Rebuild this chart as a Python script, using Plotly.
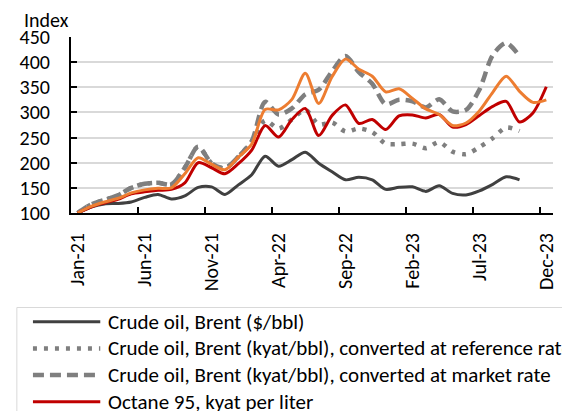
import plotly.graph_objects as go

# ---------------- data ----------------
months = ["Jan-21", "Feb-21", "Mar-21", "Apr-21", "May-21", "Jun-21", "Jul-21", "Aug-21",
          "Sep-21", "Oct-21", "Nov-21", "Dec-21", "Jan-22", "Feb-22", "Mar-22", "Apr-22",
          "May-22", "Jun-22", "Jul-22", "Aug-22", "Sep-22", "Oct-22", "Nov-22", "Dec-22",
          "Jan-23", "Feb-23", "Mar-23", "Apr-23", "May-23", "Jun-23", "Jul-23", "Aug-23",
          "Sep-23", "Oct-23", "Nov-23", "Dec-23"]

brent_usd = [100, 112, 118, 119, 122, 131, 137, 128, 134, 151, 152, 137,
             156, 176, 213, 193, 206, 221, 199, 182, 166, 171, 166, 147,
             151, 152, 143, 154, 139, 136, 144, 157, 172, 166, None, None]

brent_ref = [100, 117, 126, 135, 150, 158, 160, 157, 190, 232, 199, 189,
             212, 242, 284, 268, 286, 305, 276, 280, 262, 268, 261, 238,
             237, 238, 229, 241, 222, 217, 231, 249, 270, 263, None, None]

brent_mkt = [100, 117, 126, 135, 150, 158, 160, 157, 190, 232, 199, 189,
             212, 243, 321, 296, 308, 336, 345, 382, 412, 380, 357, 316,
             325, 322, 310, 326, 302, 305, 345, 414, 438, 412, None, None]

octane95 = [100, 112, 120, 127, 138, 142, 145, 147, 160, 200, 190, 178,
            198, 225, 274, 251, 286, 308, 254, 294, 315, 278, 286, 266,
            293, 295, 289, 296, 271, 276, 294, 312, 322, 281, 299, 351]

diesel = [100, 113, 122, 129, 140, 146, 149, 150, 178, 210, 197, 186,
          211, 237, 306, 305, 326, 378, 318, 371, 406, 386, 372, 341,
          347, 328, 307, 296, 274, 279, 303, 340, 372, 342, 320, 325]

series_names = ["Crude oil, Brent ($/bbl)",
                "Crude oil, Brent (kyat/bbl), converted at reference rate",
                "Crude oil, Brent (kyat/bbl), converted at market rate",
                "Octane 95, kyat per liter",
                "Diesel, kyat per liter"]
series_values = [brent_usd, brent_ref, brent_mkt, octane95, diesel]

y_axis_title = "Index"

# ---------------- styles ----------------
colors = ["#404040", "#7f7f7f", "#7f7f7f", "#c00000", "#ed7d31"]
widths = [3, 4.5, 4.5, 3, 3]
dashes = ["solid", "4px,7px", "11px,6px", "solid", "solid"]

FONT = "Calibri, Carlito, Lato, sans-serif"
OFF = 8                      # page margin around the figure
W, H = 570 - OFF, 411 - OFF  # figure size
# plot area in window pixels
L, R, T, B = 63, 557, 37, 213
Lf, Rf, Tf, Bf = L - OFF, R - OFF, T - OFF, B - OFF


def px(xp):
    return (xp - OFF - Lf) / (Rf - Lf)


def py(yp):
    return (Bf - (yp - OFF)) / (Bf - Tf)


fig = go.Figure()
for name, vals, c, w, d in zip(series_names, series_values, colors, widths, dashes):
    fig.add_trace(go.Scatter(
        x=months, y=vals, name=name, mode="lines",
        line=dict(color=c, width=w, dash=d, shape="spline", smoothing=0.8),
        connectgaps=False, showlegend=False, hoverinfo="skip"))

# ---------------- manual legend (box runs past the page edge) ----------------
shapes = [dict(type="rect", xref="paper", yref="paper",
               x0=px(7.5), x1=px(700), y0=py(307.5), y1=py(560),
               line=dict(color="#d9d9d9", width=1), fillcolor="rgba(0,0,0,0)", layer="below")]
annotations = [dict(text=y_axis_title, xref="paper", yref="paper", x=px(13), y=py(19.5),
                    xanchor="left", yanchor="middle", showarrow=False,
                    font=dict(family=FONT, size=20, color="#000000"))]
row0, row_step = 321.7, 26.7
for k, name in enumerate(series_names):
    yy = row0 + k * row_step
    shapes.append(dict(type="line", xref="paper", yref="paper",
                       x0=px(24), x1=px(93), y0=py(yy), y1=py(yy),
                       line=dict(color=colors[k], width=widths[k], dash=dashes[k])))
    annotations.append(dict(text=name, xref="paper", yref="paper", x=px(99), y=py(yy),
                            xanchor="left", yanchor="middle", showarrow=False,
                            font=dict(family=FONT, size=21, color="#000000")))

fig.update_layout(
    width=W, height=H,
    margin=dict(l=Lf, r=W - Rf, t=Tf, b=H - Bf, pad=0),
    paper_bgcolor="white", plot_bgcolor="white",
    font=dict(family=FONT, size=20, color="#000000"),
    shapes=shapes, annotations=annotations,
    showlegend=False,
)
fig.update_xaxes(
    type="category", range=[-0.5, len(months) - 0.5],
    dtick=5, tickson="boundaries", tickangle=-90,
    ticks="inside", ticklen=6, tickwidth=2, tickcolor="#000000",
    showline=True, linecolor="#000000", linewidth=2,
    showgrid=False, zeroline=False,
    tickfont=dict(family=FONT, size=20, color="#000000"),
    ticklabelstandoff=10,
)
fig.update_yaxes(
    range=[100, 450], dtick=50, tick0=100,
    ticks="inside", ticklen=6, tickwidth=2, tickcolor="#000000",
    showline=True, linecolor="#000000", linewidth=2,
    showgrid=True, gridcolor="#d9d9d9", gridwidth=1.5, zeroline=False,
    tickfont=dict(family=FONT, size=20, color="#000000"),
    ticklabelstandoff=15,
)

fig.write_html("out.html")
